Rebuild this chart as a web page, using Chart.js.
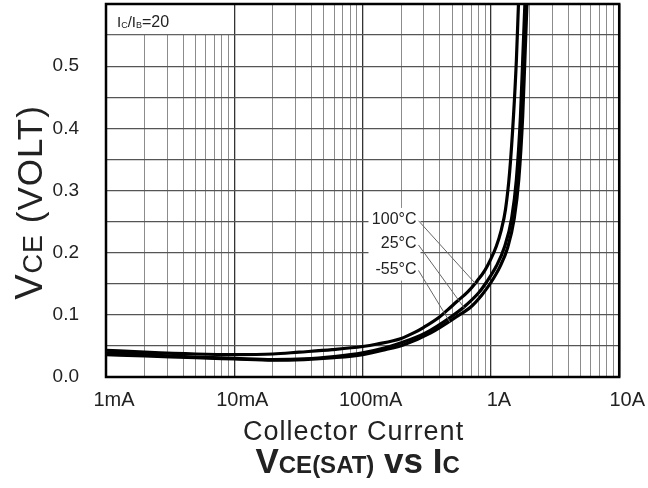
<!DOCTYPE html>
<html>
<head>
<meta charset="utf-8">
<script src="https://cdn.jsdelivr.net/npm/chart.js@4.4.1/dist/chart.umd.min.js"></script>
<style>
  html, body { margin: 0; padding: 0; background: #fff; }
  #wrap { width: 648px; height: 488px; }
</style>
</head>
<body>
<div id="wrap"><canvas id="vce" width="648" height="488"></canvas></div>
<script>
// Datos: corriente de colector (A) y VCE(sat) (V)
const ic100 = [0.001, 0.002, 0.005, 0.01, 0.02, 0.032, 0.058, 0.1, 0.13, 0.2, 0.25, 0.3, 0.4, 0.46, 0.54, 0.66, 0.77, 0.9, 1.0, 1.1, 1.2, 1.3, 1.4, 1.5, 1.58, 1.64];
const vce100 = [0.043, 0.040, 0.037, 0.036, 0.037, 0.040, 0.044, 0.049, 0.053, 0.062, 0.071, 0.080, 0.097, 0.108, 0.121, 0.137, 0.153, 0.172, 0.190, 0.210, 0.235, 0.270, 0.330, 0.420, 0.510, 0.600];

const ic25 = [0.001, 0.002, 0.005, 0.01, 0.02, 0.035, 0.06, 0.1, 0.15, 0.2, 0.31, 0.49, 0.62, 0.8, 0.92, 1.1, 1.28, 1.45, 1.58, 1.7, 1.77, 1.84];
const vce25 = [0.039, 0.036, 0.032, 0.030, 0.028, 0.029, 0.033, 0.039, 0.047, 0.055, 0.071, 0.097, 0.113, 0.135, 0.152, 0.178, 0.210, 0.255, 0.318, 0.420, 0.511, 0.600];

const icM55 = [0.001, 0.002, 0.005, 0.01, 0.02, 0.035, 0.06, 0.1, 0.15, 0.21, 0.34, 0.54, 0.70, 0.85, 1.0, 1.18, 1.35, 1.52, 1.65, 1.77, 1.84, 1.91];
const vceM55 = [0.036, 0.034, 0.031, 0.029, 0.027, 0.028, 0.031, 0.036, 0.044, 0.052, 0.071, 0.097, 0.113, 0.132, 0.152, 0.178, 0.208, 0.255, 0.318, 0.420, 0.511, 0.600];

const xTickValues = [0.001, 0.01, 0.1, 1, 10];
const xTickLabels = ['1mA', '10mA', '100mA', '1A', '10A'];
const yTickValues = [0, 0.1, 0.2, 0.3, 0.4, 0.5];
const yTickLabels = ['0.0', '0.1', '0.2', '0.3', '0.4', '0.5'];
const yGridValues = [0, 0.05, 0.1, 0.15, 0.2, 0.25, 0.3, 0.35, 0.4, 0.45, 0.5, 0.55, 0.6];

const tempLabels = ['100°C', '25°C', '-55°C'];

const FONT = "'Liberation Sans', Arial, sans-serif";

// lineas del grid logaritmico: 1..9 de cada decada
const xGridValues = [];
for (let d = 0; d < 4; d++) {
    for (let m = 1; m < 10; m++) xGridValues.push(m * Math.pow(10, d - 3));
}
xGridValues.push(10);

const isDecade = v => xTickValues.some(t => Math.abs(v / t - 1) < 1e-6);

function puntos(xs, ys) {
    return xs.map((v, i) => ({ x: v, y: ys[i] }));
}

// dibuja texto con partes de distinto tamaño
function textoMixto(ctx, partes, x, y, align, espacio) {
    ctx.letterSpacing = (espacio || 0) + 'px';
    let ancho = 0;
    partes.forEach(p => {
        ctx.font = (p.bold ? 'bold ' : '') + p.size + 'px ' + FONT;
        p.w = ctx.measureText(p.t).width;
        ancho += p.w;
    });
    let cx = align === 'center' ? x - ancho / 2 : x;
    ctx.textAlign = 'left';
    ctx.textBaseline = 'alphabetic';
    partes.forEach(p => {
        ctx.font = (p.bold ? 'bold ' : '') + p.size + 'px ' + FONT;
        ctx.fillText(p.t, cx, y + (p.dy || 0));
        cx += p.w;
    });
    ctx.letterSpacing = '0px';
}

const decorado = {
    id: 'decorado',
    beforeDatasetsDraw(chart) {
        const { ctx, chartArea: a, scales: { x, y } } = chart;
        ctx.save();
        ctx.fillStyle = '#fff';
        // caja de IC/IB
        const bx = x.getPixelForValue(0.01);
        const by = y.getPixelForValue(0.55);
        ctx.fillRect(a.left + 1, a.top + 1, bx - a.left - 2, by - a.top - 2);
        // caja detras de las temperaturas
        const lx = x.getPixelForValue(0.263);
        ctx.fillRect(lx - 48, y.getPixelForValue(0.272), 52, y.getPixelForValue(0.155) - y.getPixelForValue(0.272));
        ctx.restore();
    },
    afterDatasetsDraw(chart) {
        const { ctx, chartArea: a, scales: { x, y } } = chart;
        ctx.save();
        // etiquetas de temperatura con lineas guia
        const lx = x.getPixelForValue(0.263);
        const ly = [0.253, 0.214, 0.173];
        const fin = [[0.76, 0.15], [0.62, 0.111], [0.48, 0.088]];
        ctx.strokeStyle = '#666';
        ctx.lineWidth = 1;
        tempLabels.forEach((t, i) => {
            const py = y.getPixelForValue(ly[i]);
            ctx.beginPath();
            ctx.moveTo(lx + 2, py + 1);
            ctx.lineTo(x.getPixelForValue(fin[i][0]), y.getPixelForValue(fin[i][1]));
            ctx.stroke();
            ctx.fillStyle = '#222';
            ctx.font = '16px ' + FONT;
            ctx.textAlign = 'right';
            ctx.textBaseline = 'middle';
            ctx.fillText(t, lx, py);
        });
        // IC/IB = 20
        ctx.fillStyle = '#222';
        textoMixto(ctx, [
            { t: 'I', size: 15 }, { t: 'C', size: 9, dy: 1 },
            { t: '/I', size: 15 }, { t: 'B', size: 9, dy: 1 },
            { t: '=20', size: 16 }
        ], a.left + 11, a.top + 23, 'left');
        // marco
        ctx.strokeStyle = '#000';
        ctx.lineWidth = 2.5;
        ctx.strokeRect(a.left, a.top, a.right - a.left, a.bottom - a.top);
        ctx.restore();
    },
    afterDraw(chart) {
        const { ctx, chartArea: a } = chart;
        ctx.save();
        ctx.fillStyle = '#222';
        const cx = (a.left + a.right) / 2 - 9;
        textoMixto(ctx, [{ t: 'Collector Current', size: 27 }], cx, 440, 'center', 1);
        textoMixto(ctx, [
            { t: 'V', size: 35, bold: true }, { t: 'CE(SAT)', size: 24, bold: true },
            { t: ' vs ', size: 35, bold: true }, { t: 'I', size: 35, bold: true },
            { t: 'C', size: 24, bold: true }
        ], cx + 4, 473, 'center');
        // titulo eje y (rotado)
        ctx.translate(29, (a.top + a.bottom) / 2 + 12);
        ctx.rotate(-Math.PI / 2);
        textoMixto(ctx, [
            { t: 'V', size: 38 }, { t: 'CE', size: 27 }, { t: ' (VOLT)', size: 35 }
        ], 0, 13, 'center', 1);
        ctx.restore();
    }
};

const linea = (label, xs, ys) => ({
    label,
    data: puntos(xs, ys),
    borderColor: '#000',
    borderWidth: 3.2,
    pointRadius: 0,
    fill: false,
    cubicInterpolationMode: 'monotone'
});

new Chart(document.getElementById('vce'), {
    type: 'line',
    data: {
        datasets: [
            linea('100°C', ic100, vce100),
            linea('25°C', ic25, vce25),
            linea('-55°C', icM55, vceM55)
        ]
    },
    options: {
        responsive: false,
        animation: false,
        layout: { padding: { top: 4, right: 28, left: 0, bottom: 0 } },
        plugins: {
            legend: { display: false },
            tooltip: { enabled: false }
        },
        scales: {
            x: {
                type: 'logarithmic',
                min: 0.001,
                max: 10,
                afterBuildTicks: s => { s.ticks = xGridValues.map(v => ({ value: v })); },
                afterFit: s => { s.height = 111; },
                border: { display: false },
                grid: {
                    drawTicks: false,
                    color: c => isDecade(c.tick.value) ? '#333' : '#8c8c8c',
                    lineWidth: c => isDecade(c.tick.value) ? 1.3 : 1
                },
                ticks: {
                    autoSkip: false,
                    maxRotation: 0,
                    padding: 11,
                    labelOffset: 8,
                    color: '#222',
                    font: { family: FONT, size: 20 },
                    callback: v => {
                        const i = xTickValues.findIndex(t => Math.abs(v / t - 1) < 1e-6);
                        return i >= 0 ? xTickLabels[i] : '';
                    }
                }
            },
            y: {
                min: 0,
                max: 0.6,
                afterBuildTicks: s => { s.ticks = yGridValues.map(v => ({ value: v })); },
                afterFit: s => { s.width = 106; },
                border: { display: false },
                grid: {
                    drawTicks: true,
                    tickLength: 27,
                    tickColor: 'rgba(0,0,0,0)',
                    color: '#555',
                    lineWidth: 1.2
                },
                ticks: {
                    autoSkip: false,
                    padding: 0,
                    color: '#222',
                    font: { family: FONT, size: 19, lineHeight: 0.01 },
                    callback: v => {
                        const i = yTickValues.findIndex(t => Math.abs(t - v) < 1e-6);
                        return i >= 0 ? yTickLabels[i] : '';
                    }
                }
            }
        }
    },
    plugins: [decorado]
});
</script>
</body>
</html>
